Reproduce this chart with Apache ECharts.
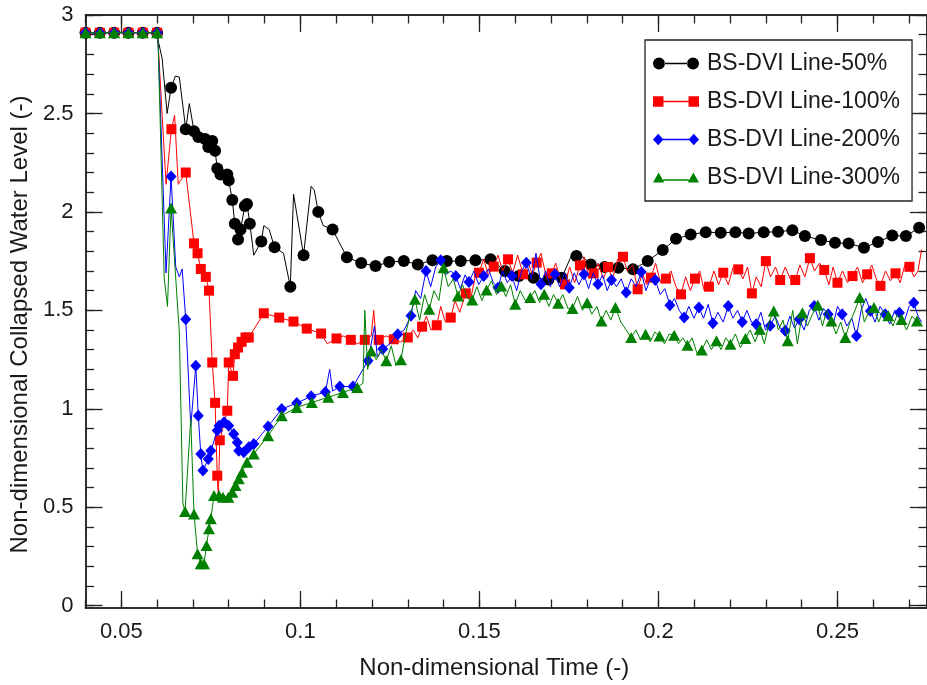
<!DOCTYPE html>
<html><head><meta charset="utf-8">
<script src="https://cdn.jsdelivr.net/npm/echarts@6/dist/echarts.min.js"></script>
<style>html,body{margin:0;padding:0;background:#fff}#c{width:927px;height:685px}</style>
</head><body><div id="c"></div>
<script>
const seriesNames = ['BS-DVI Line-50%', 'BS-DVI Line-100%', 'BS-DVI Line-200%', 'BS-DVI Line-300%'];
const xMajorTicks = [0.05, 0.1, 0.15, 0.2, 0.25];
const xMinorTicks = [0.04,0.05,0.06,0.07,0.08,0.09,0.10,0.11,0.12,0.13,0.14,0.15,0.16,0.17,0.18,0.19,0.20,0.21,0.22,0.23,0.24,0.25,0.26,0.27];
const yMajorTicks = [0, 0.5, 1, 1.5, 2, 2.5, 3];
const yMinorTicks = [0,0.1,0.2,0.3,0.4,0.5,0.6,0.7,0.8,0.9,1.0,1.1,1.2,1.3,1.4,1.5,1.6,1.7,1.8,1.9,2.0,2.1,2.2,2.3,2.4,2.5,2.6,2.7,2.8,2.9,3.0];

// initial plateau markers shared by all four cases
const flatMarkers = [[0.040,2.91],[0.044,2.91],[0.048,2.91],[0.052,2.91],[0.056,2.91],[0.060,2.91]];

// BS-DVI Line-50%: marker points and in-between line points
const m50 = [[0.0639,2.63],[0.0680,2.42],[0.0703,2.41],[0.0715,2.38],[0.0734,2.37],[0.0743,2.33],[0.0754,2.36],[0.0762,2.31],[0.0768,2.22],[0.0777,2.19],[0.0796,2.19],[0.0800,2.16],[0.0810,2.06],[0.0817,1.94],[0.0826,1.86],[0.0833,1.91],[0.0845,2.03],[0.0851,2.04],[0.0859,1.94],[0.0891,1.85],[0.0928,1.82],[0.0972,1.62],[0.1009,1.78],[0.1050,2.00],[0.1090,1.91],[0.1130,1.77],[0.1170,1.74],[0.1210,1.725],[0.1248,1.745],[0.1289,1.75],[0.1328,1.733],[0.1369,1.754],[0.1409,1.75],[0.1448,1.75],[0.1489,1.754],[0.1531,1.759],[0.1571,1.70],[0.1610,1.674],[0.1651,1.666],[0.1693,1.657],[0.1730,1.666],[0.1771,1.776],[0.1811,1.733],[0.1850,1.72],[0.1888,1.716],[0.1929,1.708],[0.1970,1.75],[0.2012,1.806],[0.2049,1.863],[0.2090,1.885],[0.2132,1.897],[0.2174,1.894],[0.2215,1.897],[0.2252,1.89],[0.2294,1.897],[0.2334,1.899],[0.2374,1.907],[0.2409,1.877],[0.2454,1.857],[0.2493,1.843],[0.2531,1.84],[0.2574,1.818],[0.2613,1.847],[0.2653,1.88],[0.2691,1.877],[0.2728,1.919]];
const n50 = [[0.0603,2.87],[0.0614,2.78],[0.0628,2.50],[0.0651,2.69],[0.0662,2.685],[0.0690,2.55],[0.0870,1.78],[0.0898,1.93],[0.0913,1.91],[0.0953,1.79],[0.0981,2.09],[0.1030,2.13],[0.1039,2.11],[0.1064,1.93],[0.1760,1.79],[0.1790,1.77]];

// BS-DVI Line-100%
const m100 = [[0.0640,2.42],[0.0680,2.20],[0.0703,1.84],[0.0713,1.79],[0.0722,1.71],[0.0736,1.67],[0.0745,1.60],[0.0754,1.235],[0.0762,1.03],[0.0768,0.66],[0.0775,0.84],[0.0796,0.99],[0.0800,1.235],[0.0812,1.167],[0.0817,1.277],[0.0826,1.311],[0.0836,1.34],[0.0847,1.362],[0.0856,1.362],[0.0898,1.485],[0.0941,1.463],[0.0981,1.443],[0.1018,1.407],[0.1058,1.382],[0.1101,1.357],[0.1141,1.35],[0.1180,1.35],[0.1219,1.35],[0.1261,1.353],[0.1300,1.362],[0.1340,1.417],[0.1381,1.424],[0.1420,1.463],[0.1462,1.586],[0.1499,1.691],[0.1540,1.722],[0.1580,1.759],[0.1622,1.683],[0.1660,1.742],[0.1702,1.688],[0.1739,1.632],[0.1781,1.728],[0.1819,1.688],[0.1859,1.72],[0.1901,1.772],[0.1942,1.607],[0.1979,1.666],[0.2021,1.661],[0.2063,1.581],[0.2102,1.661],[0.2141,1.62],[0.2181,1.691],[0.2223,1.708],[0.2261,1.586],[0.2300,1.75],[0.2340,1.654],[0.2382,1.654],[0.2423,1.765],[0.2463,1.705],[0.2500,1.64],[0.2542,1.674],[0.2583,1.683],[0.2620,1.624],[0.2662,1.688],[0.2701,1.721]];
const n100 = [[0.0603,2.85],[0.0625,2.14],[0.0649,2.49],[0.0659,2.14],[0.0771,0.55],[0.1075,1.33],[0.1120,1.37],[0.1160,1.33],[0.1198,1.37],[0.1205,1.50],[0.1212,1.34],[0.1240,1.37],[0.1280,1.34],[0.1315,1.40],[0.1328,1.36],[0.1352,1.47],[0.1365,1.40],[0.1392,1.52],[0.1405,1.44],[0.1432,1.55],[0.1445,1.49],[0.1475,1.55],[0.1487,1.66],[0.1512,1.76],[0.1525,1.68],[0.1552,1.78],[0.1565,1.70],[0.1593,1.69],[0.1607,1.78],[0.1635,1.75],[0.1648,1.68],[0.1672,1.79],[0.1688,1.66],[0.1713,1.74],[0.1726,1.66],[0.1752,1.72],[0.1766,1.64],[0.1793,1.77],[0.1806,1.66],[0.1832,1.74],[0.1846,1.66],[0.1872,1.66],[0.1886,1.76],[0.1913,1.70],[0.1928,1.73],[0.1955,1.69],[0.1967,1.63],[0.1992,1.74],[0.2006,1.64],[0.2035,1.70],[0.2049,1.62],[0.2076,1.67],[0.2089,1.60],[0.2115,1.70],[0.2128,1.60],[0.2155,1.70],[0.2168,1.63],[0.2195,1.63],[0.2209,1.72],[0.2236,1.66],[0.2249,1.72],[0.2273,1.67],[0.2287,1.62],[0.2313,1.67],[0.2327,1.72],[0.2354,1.72],[0.2368,1.66],[0.2395,1.73],[0.2409,1.67],[0.2436,1.70],[0.2450,1.74],[0.2476,1.63],[0.2488,1.72],[0.2514,1.70],[0.2528,1.64],[0.2556,1.72],[0.2570,1.64],[0.2596,1.73],[0.2608,1.66],[0.2634,1.70],[0.2648,1.65],[0.2675,1.64],[0.2688,1.73],[0.2714,1.67],[0.2725,1.70],[0.2735,1.81]];

// BS-DVI Line-200%
const m200 = [[0.0639,2.18],[0.0680,1.455],[0.0708,1.218],[0.0715,0.965],[0.0722,0.77],[0.0728,0.686],[0.0743,0.745],[0.0750,0.787],[0.0768,0.889],[0.0773,0.914],[0.0787,0.931],[0.0800,0.914],[0.0814,0.872],[0.0824,0.829],[0.0828,0.787],[0.0842,0.779],[0.0856,0.804],[0.0870,0.821],[0.0910,0.91],[0.0948,0.999],[0.0990,1.029],[0.1030,1.063],[0.1070,1.085],[0.1110,1.113],[0.1147,1.113],[0.1189,1.244],[0.1230,1.303],[0.1272,1.379],[0.1309,1.472],[0.1351,1.70],[0.1392,1.754],[0.1434,1.674],[0.1471,1.644],[0.1512,1.674],[0.1552,1.615],[0.1591,1.674],[0.1631,1.742],[0.1672,1.632],[0.1711,1.683],[0.1751,1.615],[0.1792,1.683],[0.1831,1.632],[0.1869,1.654],[0.1910,1.59],[0.1952,1.694],[0.1991,1.654],[0.2032,1.526],[0.2072,1.463],[0.2113,1.514],[0.2152,1.434],[0.2195,1.522],[0.2234,1.441],[0.2273,1.429],[0.2312,1.421],[0.2354,1.396],[0.2393,1.455],[0.2435,1.522],[0.2474,1.48],[0.2513,1.48],[0.2553,1.37],[0.2592,1.497],[0.2633,1.48],[0.2673,1.488],[0.2713,1.539]];
const n200 = [[0.0603,2.85],[0.0625,1.69],[0.0652,1.72],[0.0662,1.67],[0.0670,1.71],[0.0694,0.91],[0.1082,1.20],[0.1090,1.09],[0.1207,1.42],[0.1215,1.26],[0.1250,1.33],[0.1290,1.40],[0.1322,1.60],[0.1336,1.56],[0.1364,1.62],[0.1378,1.72],[0.1405,1.68],[0.1420,1.70],[0.1447,1.61],[0.1460,1.68],[0.1485,1.70],[0.1498,1.63],[0.1525,1.71],[0.1539,1.64],[0.1565,1.70],[0.1578,1.64],[0.1604,1.60],[0.1618,1.70],[0.1645,1.66],[0.1658,1.79],[0.1685,1.70],[0.1698,1.62],[0.1724,1.62],[0.1738,1.69],[0.1765,1.69],[0.1778,1.63],[0.1805,1.61],[0.1818,1.69],[0.1844,1.68],[0.1857,1.60],[0.1883,1.62],[0.1896,1.66],[0.1924,1.66],[0.1938,1.62],[0.1965,1.60],[0.1978,1.66],[0.2005,1.58],[0.2018,1.61],[0.2045,1.56],[0.2058,1.50],[0.2085,1.52],[0.2099,1.46],[0.2126,1.46],[0.2139,1.53],[0.2166,1.49],[0.2181,1.44],[0.2208,1.46],[0.2221,1.50],[0.2247,1.50],[0.2260,1.44],[0.2286,1.49],[0.2299,1.40],[0.2326,1.47],[0.2340,1.41],[0.2367,1.47],[0.2380,1.41],[0.2407,1.40],[0.2421,1.50],[0.2448,1.45],[0.2461,1.51],[0.2487,1.42],[0.2500,1.52],[0.2526,1.42],[0.2540,1.46],[0.2566,1.50],[0.2579,1.56],[0.2605,1.44],[0.2619,1.52],[0.2646,1.43],[0.2660,1.50],[0.2686,1.44],[0.2700,1.52],[0.2725,1.47],[0.2735,1.44]];

// BS-DVI Line-300%
const m300 = [[0.0639,2.02],[0.0678,0.478],[0.0703,0.466],[0.0713,0.264],[0.0722,0.213],[0.0731,0.213],[0.0738,0.306],[0.0745,0.39],[0.0750,0.441],[0.0759,0.559],[0.0773,0.559],[0.0784,0.551],[0.0799,0.551],[0.0810,0.576],[0.0819,0.61],[0.0828,0.644],[0.0837,0.678],[0.0851,0.728],[0.0870,0.77],[0.0910,0.863],[0.0948,0.965],[0.0990,1.007],[0.1032,1.032],[0.1078,1.058],[0.1119,1.083],[0.1159,1.108],[0.1198,1.294],[0.1240,1.244],[0.1281,1.249],[0.1320,1.556],[0.1360,1.505],[0.1400,1.716],[0.1440,1.573],[0.1480,1.553],[0.1520,1.603],[0.1561,1.624],[0.1600,1.531],[0.1642,1.565],[0.1681,1.581],[0.1720,1.536],[0.1760,1.509],[0.1801,1.539],[0.1841,1.446],[0.1880,1.514],[0.1924,1.362],[0.1964,1.379],[0.2003,1.37],[0.2044,1.374],[0.2081,1.323],[0.2121,1.299],[0.2162,1.345],[0.2201,1.328],[0.2243,1.357],[0.2283,1.404],[0.2322,1.497],[0.2361,1.345],[0.2402,1.488],[0.2445,1.526],[0.2483,1.446],[0.2522,1.362],[0.2562,1.565],[0.2602,1.514],[0.2642,1.472],[0.2679,1.454],[0.2722,1.446]];
const n300 = [[0.0603,2.85],[0.0620,1.66],[0.0629,1.52],[0.0662,1.39],[0.0672,0.52],[0.0694,0.95],[0.1175,1.13],[0.1180,1.50],[0.1188,1.20],[0.1212,1.25],[0.1226,1.30],[0.1254,1.32],[0.1267,1.22],[0.1294,1.38],[0.1307,1.48],[0.1333,1.45],[0.1347,1.58],[0.1373,1.60],[0.1387,1.55],[0.1413,1.62],[0.1427,1.66],[0.1453,1.63],[0.1467,1.56],[0.1493,1.62],[0.1507,1.55],[0.1534,1.65],[0.1548,1.58],[0.1574,1.57],[0.1587,1.63],[0.1614,1.60],[0.1628,1.55],[0.1655,1.60],[0.1668,1.54],[0.1694,1.52],[0.1707,1.58],[0.1733,1.58],[0.1747,1.51],[0.1774,1.57],[0.1788,1.50],[0.1814,1.48],[0.1828,1.52],[0.1854,1.50],[0.1867,1.45],[0.1895,1.44],[0.1910,1.40],[0.1937,1.40],[0.1950,1.35],[0.1977,1.34],[0.1990,1.39],[0.2017,1.33],[0.2030,1.38],[0.2056,1.33],[0.2068,1.36],[0.2094,1.36],[0.2108,1.28],[0.2135,1.35],[0.2148,1.30],[0.2175,1.30],[0.2188,1.36],[0.2215,1.38],[0.2229,1.31],[0.2256,1.40],[0.2270,1.34],[0.2296,1.33],[0.2309,1.44],[0.2335,1.40],[0.2348,1.45],[0.2375,1.50],[0.2388,1.33],[0.2416,1.42],[0.2430,1.48],[0.2458,1.42],[0.2470,1.50],[0.2496,1.38],[0.2509,1.44],[0.2535,1.44],[0.2549,1.50],[0.2575,1.44],[0.2589,1.50],[0.2615,1.44],[0.2628,1.50],[0.2655,1.42],[0.2667,1.48],[0.2693,1.40],[0.2708,1.47],[0.2735,1.42]];

const markerSets = [m50, m100, m200, m300];
const lineSets = [n50, n100, n200, n300];

// styles
const colors = ['#000000', '#ff0000', '#0000ff', '#008000'];
const symbols = ['circle', 'rect', 'diamond', 'triangle'];
const symbolSizes = [12, 10, [11, 12], [12, 11]];
const legendIcons = [
  'path://M0,6 A6,6 0 1,0 12,6 A6,6 0 1,0 0,6 Z M34,6 A6,6 0 1,0 46,6 A6,6 0 1,0 34,6 Z M11.5,5.3 L34.5,5.3 L34.5,6.7 L11.5,6.7 Z',
  'path://M1,1 L11,1 L11,11 L1,11 Z M35,1 L45,1 L45,11 L35,11 Z M11,5.3 L35,5.3 L35,6.7 L11,6.7 Z',
  'path://M1,6 L6,0.5 L11,6 L6,11.5 Z M35,6 L40,0.5 L45,6 L40,11.5 Z M10.6,5.3 L35.4,5.3 L35.4,6.7 L10.6,6.7 Z',
  'path://M0.5,12 L6,2 L11.5,12 Z M34.5,12 L40,2 L45.5,12 Z M10.4,8.8 L35.6,8.8 L35.6,10.2 L10.4,10.2 Z'
];

function buildData(markers, extra) {
  const pts = [];
  flatMarkers.concat(markers).forEach(p => pts.push({ value: p }));
  extra.forEach(p => pts.push({ value: p, symbol: 'none' }));
  pts.sort((a, b) => a.value[0] - b.value[0]);
  return pts;
}

const FONT = '"Liberation Sans", Arial, sans-serif';
const TXT = '#1a1a1a';
const AXC = '#222';

const series = seriesNames.map((name, i) => ({
  name: name,
  type: 'line',
  xAxisIndex: 0, yAxisIndex: 0,
  data: buildData(markerSets[i], lineSets[i]),
  symbol: symbols[i],
  symbolSize: symbolSizes[i],
  showSymbol: true,
  clip: true,
  lineStyle: { color: colors[i], width: 1 },
  itemStyle: { color: colors[i], borderWidth: 0 },
  emphasis: { disabled: true },
  z: 2 + i
}));

function xAx(pos, ticks, len, labels, extra) {
  return Object.assign({
    type: 'value', position: pos, min: 0.04, max: 0.275,
    axisLine: { show: true, onZero: false, lineStyle: { color: AXC, width: 1.5 } },
    axisTick: { show: true, inside: true, length: len, customValues: ticks, lineStyle: { color: AXC, width: 1.3 } },
    axisLabel: labels ? { show: true, customValues: ticks, fontSize: 22, color: TXT, fontFamily: FONT, margin: 13 } : { show: false },
    splitLine: { show: false }
  }, extra || {});
}
function yAx(pos, ticks, len, labels, extra) {
  return Object.assign({
    type: 'value', position: pos, min: -0.012, max: 3,
    axisLine: { show: true, onZero: false, lineStyle: { color: AXC, width: 1.5 } },
    axisTick: { show: true, inside: true, length: len, customValues: ticks, lineStyle: { color: AXC, width: 1.3 } },
    axisLabel: labels ? { show: true, customValues: ticks, fontSize: 22, color: TXT, fontFamily: FONT, margin: 12, padding: [4, 0, 0, 0] } : { show: false },
    splitLine: { show: false }
  }, extra || {});
}

const option = {
  animation: false,
  backgroundColor: '#ffffff',
  grid: { left: 85, right: -6, top: 15, bottom: 76, containLabel: false },
  xAxis: [
    xAx('bottom', xMajorTicks, 17, true, {
      name: 'Non-dimensional Time (-)', nameLocation: 'middle', nameGap: 48,
      nameTextStyle: { fontSize: 24, color: TXT, fontFamily: FONT, padding: [0, 24, 0, 0] }
    }),
    xAx('bottom', xMinorTicks, 8.5, false),
    xAx('top', xMajorTicks, 17, false),
    xAx('top', xMinorTicks, 8.5, false)
  ],
  yAxis: [
    yAx('left', yMajorTicks, 17, true, {
      name: 'Non-dimensional Collapsed Water Level (-)', nameLocation: 'middle', nameGap: 48,
      nameTextStyle: { fontSize: 24, color: TXT, fontFamily: FONT, padding: [0, 26, 0, 0] }
    }),
    yAx('left', yMinorTicks, 8.5, false),
    yAx('right', yMajorTicks, 17, false),
    yAx('right', yMinorTicks, 8.5, false)
  ],
  legend: {
    orient: 'vertical', left: 645, top: 40,
    backgroundColor: '#ffffff', borderColor: '#222', borderWidth: 1.3,
    padding: [12, 12, 12, 8],
    itemWidth: 46, itemHeight: 12, itemGap: 15,
    selectedMode: false,
    itemStyle: { borderWidth: 0 },
    textStyle: { fontSize: 23, color: TXT, fontFamily: FONT, padding: [0, 0, 0, 3] },
    data: seriesNames.map((n, i) => ({ name: n, icon: legendIcons[i], itemStyle: { color: colors[i], borderWidth: 0 } }))
  },
  series: series
};

const chart = echarts.init(document.getElementById('c'), null, { renderer: 'canvas' });
chart.setOption(option);
</script></body></html>
